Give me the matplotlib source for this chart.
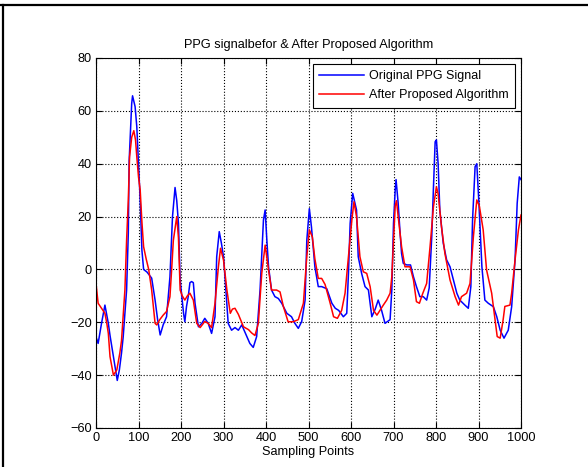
import numpy as np
import matplotlib.pyplot as plt
from matplotlib.lines import Line2D

plt.rcParams['font.family'] = ['Liberation Sans', 'DejaVu Sans']

# original PPG signal (sample index, amplitude)
orig_s = [0, 5, 13, 21, 29, 33, 37, 45, 50, 55, 60, 64, 72, 76, 78, 84, 86, 92, 96, 100,
          104, 108, 112, 120, 131, 139, 145, 151, 158, 166, 174, 180, 186, 190, 194, 198,
          206, 209, 213, 217, 221, 225, 229, 233, 241, 249, 256, 264, 272, 280, 284, 290,
          295, 300, 304, 311, 319, 327, 335, 343, 355, 362, 370, 378, 386, 394, 398, 402,
          406, 413, 421, 429, 437, 449, 460, 468, 476, 484, 492, 496, 502, 507, 515, 523,
          531, 543, 555, 563, 571, 582, 590, 594, 598, 604, 608, 613, 617, 625, 633, 641,
          649, 657, 664, 672, 680, 692, 696, 700, 704, 706, 711, 715, 719, 723, 731, 740,
          747, 754, 762, 770, 778, 784, 790, 794, 798, 801, 805, 809, 817, 825, 833, 841,
          849, 856, 868, 876, 882, 886, 892, 896, 901, 908, 915, 923, 935, 943, 951, 960,
          970, 978, 986, 991, 996, 1000]
orig_v = [-25.5, -28, -20.4, -13.5, -20.4, -25, -29, -36.8, -42, -38, -31.7, -25.5, -7.8, 13.7,
          41, 62.8, 65.7, 61.6, 54, 40, 26, 7.3, 0, -1, -3.3, -11.6, -19, -24.8, -21, -17.9,
          -2.8, 20, 31, 26, 17.4, -4, -16.6, -19.8, -14, -10.3, -5, -4.6, -5, -12.8, -21.7,
          -20.4, -18.5, -20.4, -24.2, -17.9, 4.8, 14.3, 10, 4.8, -4, -20.4, -23, -22, -23,
          -21, -25.4, -28, -29.5, -25.4, -7.8, 18.7, 22.5, 11, 1, -7.8, -10.3, -11, -12.8,
          -16.6, -17.9, -20.4, -22.3, -19.7, -11.6, 11, 23, 16, 1, -6.5, -6.5, -7.3, -12.8,
          -14.7, -15.5, -17.9, -16.6, -1.5, 17.4, 28.8, 26, 22.5, 4.8, -1.5, -6.5, -7.8,
          -17.9, -15, -11.6, -15.5, -20.4, -19, -7.8, 17.4, 30, 34, 25, 15, 6, 2.3, 1.7, 1.7,
          -2.8, -6.5, -10.3, -10.3, -11.6, -7, 12.4, 31, 48.3, 49, 40, 22.5, 10, 3.6, 1, -4,
          -9, -11.6, -13.5, -14.7, -6.5, 18.7, 38.9, 40, 25, 1, -11.6, -12.8, -14.1, -17.9,
          -23, -26, -23, -14.1, 3.6, 25, 35, 34]

# signal after the proposed algorithm
proc_s = [0, 5, 13, 21, 25, 29, 33, 41, 49, 56, 60, 68, 72, 76, 79, 84, 89, 93, 96, 100,
          104, 108, 112, 118, 124, 131, 139, 143, 150, 158, 166, 174, 178, 182, 190, 194,
          198, 203, 209, 215, 221, 229, 237, 245, 256, 264, 272, 280, 288, 293, 300, 308,
          316, 321, 327, 335, 347, 359, 366, 374, 382, 390, 398, 406, 413, 425, 433, 441,
          452, 464, 476, 488, 496, 502, 509, 515, 523, 531, 539, 551, 559, 568, 578, 586,
          594, 602, 607, 613, 621, 629, 637, 645, 653, 661, 668, 676, 684, 692, 696, 700,
          704, 707, 711, 719, 727, 739, 747, 754, 761, 769, 778, 786, 794, 801, 805, 813,
          821, 833, 845, 853, 860, 872, 880, 888, 896, 902, 911, 919, 931, 939, 944, 951,
          958, 962, 974, 978, 986, 994, 1000]
proc_v = [-5.3, -12.8, -14.7, -16.6, -20, -24.2, -33, -40, -38, -31.7, -27, -7.8, 11, 26.3,
          42.6, 50, 52.5, 49, 42.6, 35, 30, 18, 8.6, 4, 0, -7.8, -20.4, -21, -19, -17.3,
          -15.9, -10.3, 0, 11, 20, 12, -7.8, -10, -11.6, -10, -9, -11.6, -20.4, -22, -19.7,
          -20.4, -22, -12.8, 1, 8, 3.6, -7.8, -16.6, -15, -14.7, -17, -21.7, -22.8, -24, -25,
          -20.4, -1.5, 9.2, -0.2, -7.8, -7.8, -8.5, -14.1, -19.8, -19.8, -19, -12.8, 4.8, 15,
          12.3, 4, -3.4, -3.4, -5.7, -12.8, -17.9, -18.5, -15.5, -9, 4.8, 18.7, 25.6, 20, 4.8,
          -0.9, -1.5, -6.5, -15.5, -17.3, -15.5, -13.5, -11.6, -9, -2.8, 11, 24, 26, 20, 8.6,
          1, 1, -4, -12.2, -12.8, -9, -5.3, 8.6, 23.7, 31.3, 28.6, 16, 6, -4, -10.3, -13.5,
          -10.3, -9, -5.3, 12.4, 26.3, 24, 15, -0.2, -9, -19, -25.4, -26, -19, -14, -13.5, -9,
          3.6, 15, 20.6]

fig = plt.figure(figsize=(5.88, 4.67), dpi=100)
ax = fig.add_axes([96 / 588, 1 - 428 / 467, 425 / 588, 370 / 467])

ax.plot(orig_s, orig_v, color='#0000ff', lw=1.1, label='Original PPG Signal')
ax.plot(proc_s, proc_v, color='#ff0000', lw=1.1, label='After Proposed Algorithm')

ax.set_xlim(0, 1000)
ax.set_ylim(-60, 80)
ax.set_xticks(np.arange(0, 1001, 100))
ax.set_yticks(np.arange(-60, 81, 20))
ax.grid(True, color='black', linestyle=':', linewidth=0.8)
ax.tick_params(direction='in', top=True, right=True, labelsize=9.2, length=4, pad=3)
for sp in ax.spines.values():
    sp.set_linewidth(0.8)

ax.set_title('PPG signalbefor & After Proposed Algorithm', fontsize=9.2, pad=7)
ax.set_xlabel('Sampling Points', fontsize=9.2, labelpad=1)

leg = ax.legend(loc='upper right', fontsize=9, fancybox=False, edgecolor='black',
                framealpha=1, borderaxespad=0.5, handlelength=3.6, handletextpad=0.4,
                borderpad=0.5, labelspacing=0.55)
leg.get_frame().set_linewidth(0.8)

# frame of the surrounding table cell
fig.add_artist(Line2D([0, 1], [1 - 5 / 467, 1 - 5 / 467], color='black', lw=1.6))
fig.add_artist(Line2D([3 / 588, 3 / 588], [0, 1 - 5 / 467], color='black', lw=1.6))

fig.savefig('out.png', dpi=100)
